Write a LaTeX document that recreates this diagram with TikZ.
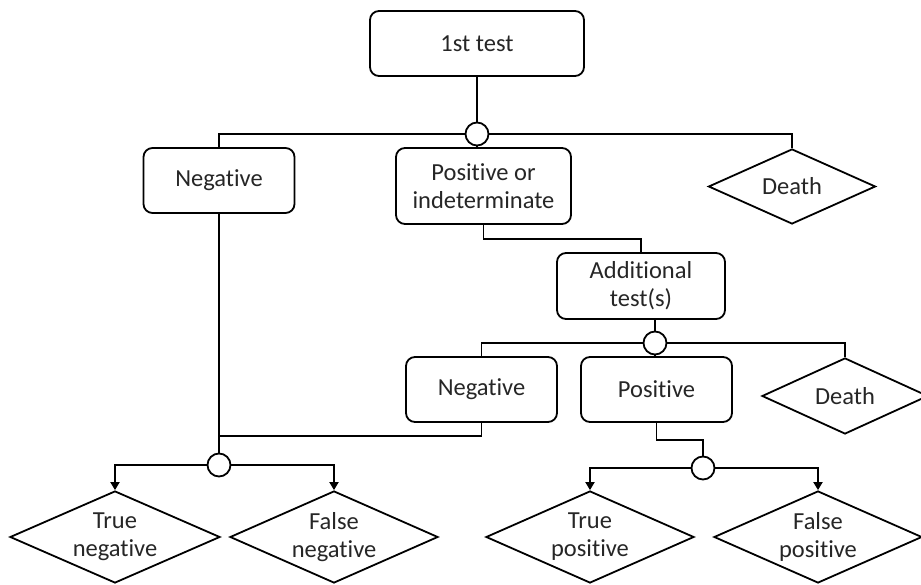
\documentclass[tikz,border=0pt]{standalone}
\usepackage{fontspec}
\setmainfont{Carlito}[Ligatures=NoCommon]
\usetikzlibrary{shapes.geometric,arrows.meta}
\begin{document}
\begin{tikzpicture}[x=1pt,y=-1pt,
  every node/.style={font=\fontsize{24.5}{28}\selectfont, text=black!85, align=center},
  rbox/.style={draw=black, line width=1.8pt, rounded corners=9pt, fill=white, inner sep=0pt},
  dbox/.style={draw=black, line width=1.8pt, diamond, shape aspect=2.2, inner sep=0pt, fill=white},
  junc/.style={draw=black, line width=1.8pt, circle, fill=white, minimum size=23pt, inner sep=0pt},
  link/.style={line width=1.8pt},
  arr/.style={link, -{Triangle[width=9pt,length=8pt]}}
]
\useasboundingbox (0,0) rectangle (921,585);

% first level
\node[rbox, minimum width=214pt, minimum height=65pt] (t1) at (477,43.5) {1st test};
\node[junc] (c1) at (477,134) {};
\node[rbox, minimum width=151pt, minimum height=65pt] (neg1) at (219,180.5) {Negative};
\node[rbox, minimum width=175pt, minimum height=76pt] (pos1) at (483.5,186) {Positive or\\indeterminate};
\node[dbox, minimum width=167pt, minimum height=75pt] (death1) at (792,186.5) {Death};

% second level
\node[rbox, minimum width=168pt, minimum height=66pt] (add) at (641,286) {Additional\\test(s)};
\node[junc] (c2) at (655,343) {};
\node[rbox, minimum width=151pt, minimum height=65pt] (neg2) at (481.5,389.5) {Negative};
\node[rbox, minimum width=151pt, minimum height=65pt] (pos2) at (656.5,389.5) {Positive};
\node[dbox, minimum width=166pt, minimum height=76pt] (death2) at (845,396) {Death};

% outcomes
\node[junc] (c3) at (219,465) {};
\node[junc] (c4) at (703,468) {};
\node[dbox, minimum width=210pt, minimum height=92pt] (tn) at (115,537) {True\\negative};
\node[dbox, minimum width=208pt, minimum height=92pt] (fn) at (334,537) {False\\negative};
\node[dbox, minimum width=208pt, minimum height=92pt] (tp) at (590,537) {True\\positive};
\node[dbox, minimum width=208pt, minimum height=92pt] (fp) at (818,537) {False\\positive};

\coordinate (j1) at (219,436);

% connectors
\draw[link] (t1.south) -- (c1.north);
\draw[link] (c1.west) -| (neg1.north);
\draw[link] (c1.east) -| (death1.north);
\draw[link] (c1.south) -- (c1.south |- pos1.north);
\draw[link] (pos1.south) -- ++(0,14) -| (add.north);

\draw[link] (add.south -| c2.north) -- (c2.north);
\draw[link] (c2.west) -| (neg2.north);
\draw[link] (c2.east) -| (death2.north);
\draw[link] (c2.south) -- (c2.south |- pos2.north);

\draw[link] (neg2.south) |- (j1);
\draw[link] (neg1.south) -- (c3.north);
\draw[arr] (c3.west) -| (tn.north);
\draw[arr] (c3.east) -| (fn.north);

\draw[link] (pos2.south) -- ++(0,17) -| (c4.north);
\draw[arr] (c4.west) -| (tp.north);
\draw[arr] (c4.east) -| (fp.north);
\end{tikzpicture}
\end{document}
